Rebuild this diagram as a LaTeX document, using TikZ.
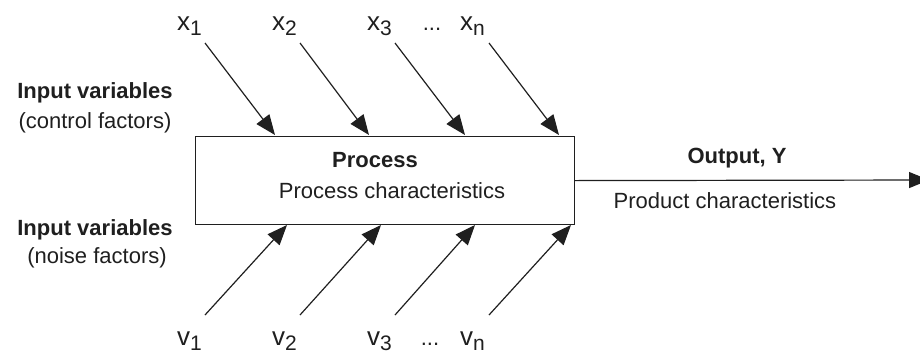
\documentclass[tikz,border=0pt]{standalone}
\usepackage{fontspec}
\setmainfont{Liberation Sans}
\usetikzlibrary{arrows.meta}
\newcommand\varlab[2]{{\fontsize{26}{30}\selectfont #1}\raisebox{-5pt}{\fontsize{21}{25}\selectfont #2}}
\begin{document}
\begin{tikzpicture}[x=1pt,y=-1pt,
  lbl/.style={anchor=base, inner sep=0pt, text=black!88, font=\fontsize{22}{26}\selectfont},
  blbl/.style={anchor=base, inner sep=0pt, text=black!88, font=\fontsize{22}{26}\selectfont\bfseries},
  vlbl/.style={anchor=base west, inner sep=0pt, text=black!88},
  arr/.style={line width=1.2pt, draw=black!88, -{Triangle[length=20pt,width=16pt]}},
  ]
\useasboundingbox (0,0) rectangle (920,354);
% process box
\node[draw=black!88, line width=1.2pt, minimum width=379pt, minimum height=88pt,
      inner sep=0pt, anchor=north west] (proc) at (195,136) {};
\node[blbl] (ptitle) at (375,167) {Process};
\node[lbl] (pchar) at (392,198) {Process characteristics};
% left labels
\node[blbl] (in1) at (95,98) {Input variables};
\node[lbl] (ctl) at (95,128) {(control factors)};
\node[blbl] (in2) at (95,235) {Input variables};
\node[lbl] (noise) at (97,263) {(noise factors)};
% output labels
\node[blbl] (out) at (737,163) {Output, Y};
\node[lbl] (prod) at (725,208) {Product characteristics};
% top variable labels
\node[vlbl] (x1) at (177,30) {\varlab{x}{1}};
\node[vlbl] (x2) at (272,30) {\varlab{x}{2}};
\node[vlbl] (x3) at (367,30) {\varlab{x}{3}};
\node[lbl] (xd) at (432,30) {\fontsize{22}{26}\selectfont ...};
\node[vlbl] (xn) at (460,30) {\varlab{x}{n}};
% bottom variable labels
\node[vlbl] (v1) at (177,345) {\varlab{v}{1}};
\node[vlbl] (v2) at (272,345) {\varlab{v}{2}};
\node[vlbl] (v3) at (367,345) {\varlab{v}{3}};
\node[lbl] (vd) at (430,345) {\fontsize{22}{26}\selectfont ...};
\node[vlbl] (vn) at (460,345) {\varlab{v}{n}};
% arrow end points
\coordinate (sx1) at (205,43);  \coordinate (tx1) at (275,135);
\coordinate (sx2) at (300,43);  \coordinate (tx2) at (369,135);
\coordinate (sx3) at (395,43);  \coordinate (tx3) at (465,135);
\coordinate (sxn) at (489,43);  \coordinate (txn) at (559,135);
\coordinate (sv1) at (205,315); \coordinate (tv1) at (287,225);
\coordinate (sv2) at (300,315); \coordinate (tv2) at (381,225);
\coordinate (sv3) at (395,315); \coordinate (tv3) at (475,225);
\coordinate (svn) at (489,315); \coordinate (tvn) at (571,225);
\coordinate (yend) at (929,180);
\foreach \i in {x1,x2,x3,xn,v1,v2,v3,vn} \draw[arr] (s\i) -- (t\i);
\draw[arr] (proc.east) -- (yend);
\end{tikzpicture}
\end{document}
